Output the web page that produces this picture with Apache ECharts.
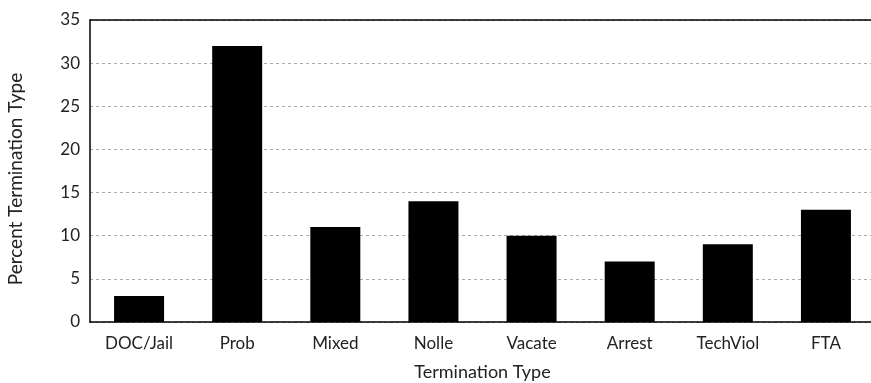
<!DOCTYPE html>
<html><head><meta charset="utf-8">
<script src="https://cdn.jsdelivr.net/npm/echarts@6/dist/echarts.min.js"></script>
<style>html,body{margin:0;padding:0;background:#fff}#c{width:871px;height:383px}</style>
</head><body><div id="c"></div>
<script>
const categories = ["DOC/Jail","Prob","Mixed","Nolle","Vacate","Arrest","TechViol","FTA"];
const values = [3,32,11,14,10,7,9,13];
const yTicks = {min:0,max:35,interval:5};
const font = "Lato";
const chart = echarts.init(document.getElementById('c'), null, {renderer:'canvas'});
chart.setOption({
  animation:false,
  backgroundColor:'#fff',
  grid:{left:90,top:20,width:785,height:302,show:false,outerBoundsMode:'none',containLabel:false},
  xAxis:[{type:'category',data:categories,name:'Termination Type',nameLocation:'middle',nameGap:41,
    nameTextStyle:{fontFamily:font,fontSize:18,color:'#222'},
    axisLine:{lineStyle:{color:'#000',width:1.5}},axisTick:{show:false},
    axisLabel:{fontFamily:font,fontSize:17,color:'#222',margin:13},splitLine:{show:false}},
    {type:'category',data:categories,position:'top',axisLine:{show:true,lineStyle:{color:'#000',width:1.5}},
     axisTick:{show:false},axisLabel:{show:false},splitLine:{show:false}}],
  yAxis:{type:'value',min:yTicks.min,max:yTicks.max,interval:yTicks.interval,
    name:'Percent Termination Type',nameLocation:'middle',nameGap:65,nameRotate:90,
    nameTextStyle:{fontFamily:font,fontSize:19,color:'#222',padding:[0,16,0,0]},
    axisLine:{show:true,lineStyle:{color:'#000',width:1.5}},axisTick:{show:false},
    axisLabel:{fontFamily:font,fontSize:17,color:'#222',margin:10},
    splitLine:{show:true,lineStyle:{color:'#aaa',type:[3,3],width:1}}},
  series:[{type:'bar',data:values,barWidth:50,itemStyle:{color:'#000'}}]
});
</script></body></html>
